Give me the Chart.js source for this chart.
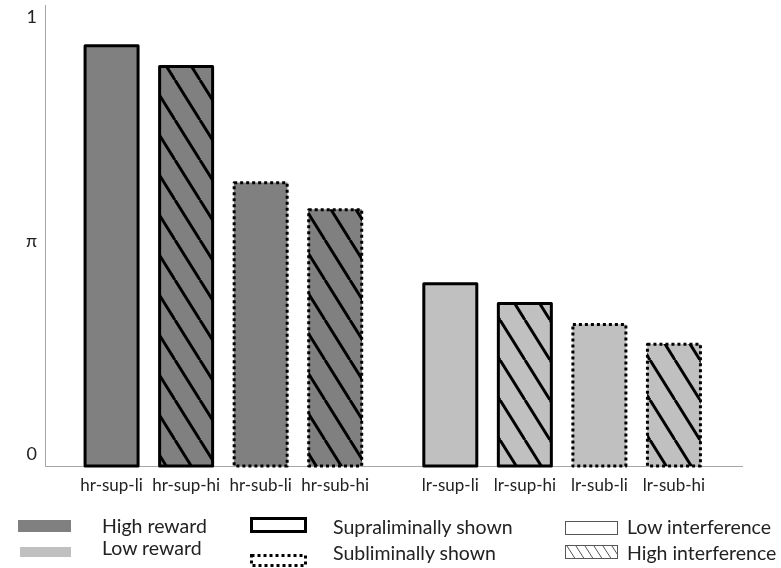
<!DOCTYPE html>
<html>
<head>
<meta charset="utf-8">
<script src="https://cdn.jsdelivr.net/npm/chart.js@4"></script>
<style>
  body { margin: 0; background: #fff; }
  #wrap { position: relative; width: 781px; height: 568px; font-family: Lato, sans-serif; color: #222; }
  #wrap canvas { position: absolute; left: 0; top: 0; }
  .lg { position: absolute; font-size: 19.5px; line-height: 20px; white-space: nowrap; }
  #swatches { position: absolute; left: 0; top: 0; }
</style>
</head>
<body>
<div id="wrap">
  <canvas id="chart" width="781" height="568"></canvas>
  <svg id="swatches" width="781" height="568">
    <defs>
      <pattern id="lgHatch" width="9" height="14" patternUnits="userSpaceOnUse">
        <line x1="-9" y1="0" x2="0" y2="14" stroke="#555" stroke-width="1"/>
        <line x1="0" y1="0" x2="9" y2="14" stroke="#555" stroke-width="1"/>
        <line x1="9" y1="0" x2="18" y2="14" stroke="#555" stroke-width="1"/>
      </pattern>
    </defs>
    <rect x="18" y="520" width="53" height="12" fill="#808080"/>
    <rect x="20" y="547" width="51" height="10" fill="#c0c0c0"/>
    <rect x="251.5" y="518.5" width="54" height="13" fill="#fff" stroke="#000" stroke-width="3"/>
    <rect x="251.5" y="555.5" width="54" height="10" fill="#fff" stroke="#000" stroke-width="3" stroke-dasharray="3 3"/>
    <rect x="565.5" y="521.5" width="52" height="13" fill="#fff" stroke="#555" stroke-width="1"/>
    <rect x="565.5" y="545.5" width="52" height="13" fill="url(#lgHatch)" stroke="#555" stroke-width="1"/>
  </svg>
  <div class="lg" style="left:102px; top:516px;">High reward</div>
  <div class="lg" style="left:102px; top:538px;">Low reward</div>
  <div class="lg" style="left:333px; top:517px;">Supraliminally shown</div>
  <div class="lg" style="left:333px; top:543px;">Subliminally shown</div>
  <div class="lg" style="left:627px; top:517px;">Low interference</div>
  <div class="lg" style="left:627px; top:543px;">High interference</div>
</div>
<script>
const categories = ["hr-sup-li", "hr-sup-hi", "hr-sub-li", "hr-sub-hi", "lr-sup-li", "lr-sup-hi", "lr-sub-li", "lr-sub-hi"];
const values = [0.936, 0.890, 0.631, 0.571, 0.406, 0.362, 0.315, 0.271];
const reward = ["high", "high", "high", "high", "low", "low", "low", "low"];
const shown = ["sup", "sup", "sub", "sub", "sup", "sup", "sub", "sub"];
const interference = ["low", "high", "low", "high", "low", "high", "low", "high"];
const yTickValues = [1, 0.5, 0];
const yTickLabels = ["1", "π", "0"];

// layout
const groupGap = 0.544;   // extra space between the two reward groups, in slots
const xMin = 0.107, xMax = 9.457;
const yMax = 1.027;
const dark = "#808080", light = "#c0c0c0";

const xPos = categories.map((c, i) => i + 1 + (reward[i] === "low" ? groupGap : 0));

function hatch(color) {
  const c = document.createElement("canvas");
  c.width = 25; c.height = 40;
  const g = c.getContext("2d");
  g.fillStyle = color;
  g.fillRect(0, 0, 25, 40);
  g.strokeStyle = "#000";
  g.lineWidth = 3;
  for (const k of [-25, 0, 25]) {
    g.beginPath();
    g.moveTo(k, 0);
    g.lineTo(k + 25, 40);
    g.stroke();
  }
  return g.createPattern(c, "repeat");
}

const fills = categories.map((c, i) => {
  const col = reward[i] === "high" ? dark : light;
  return interference[i] === "high" ? hatch(col) : col;
});

const barOutline = {
  id: "barOutline",
  afterDatasetsDraw(chart) {
    const ctx = chart.ctx;
    const meta = chart.getDatasetMeta(0);
    ctx.save();
    ctx.strokeStyle = "#000";
    ctx.lineWidth = 3;
    meta.data.forEach((bar, i) => {
      const p = bar.getProps(["x", "y", "base", "width"], true);
      ctx.setLineDash(shown[i] === "sub" ? [3, 3] : []);
      ctx.lineJoin = "round";
      ctx.strokeRect(p.x - p.width / 2, p.y, p.width, p.base - p.y);
    });
    ctx.restore();
  }
};

const yLabels = {
  id: "yLabels",
  afterDraw(chart) {
    const ctx = chart.ctx;
    const ys = chart.scales.y;
    ctx.save();
    ctx.font = "18px Lato";
    ctx.fillStyle = "#222";
    ctx.textAlign = "right";
    ctx.textBaseline = "middle";
    yTickValues.forEach((v, i) => {
      const off = v === 0 ? -12 : 0;
      ctx.fillText(yTickLabels[i], chart.chartArea.left - 8, ys.getPixelForValue(v) + off);
    });
    ctx.restore();
  }
};

new Chart(document.getElementById("chart"), {
  type: "bar",
  data: {
    datasets: [{
      data: values.map((v, i) => ({ x: xPos[i], y: v })),
      backgroundColor: fills,
      borderWidth: 0,
      barThickness: 53
    }]
  },
  options: {
    responsive: false,
    animation: false,
    layout: { padding: { top: 5, left: 45, right: 39, bottom: 68 } },
    plugins: { legend: { display: false }, tooltip: { enabled: false } },
    scales: {
      x: {
        type: "linear",
        offset: false,
        min: xMin,
        max: xMax,
        grid: { display: false, drawTicks: false },
        border: { color: "#a6a6a6", width: 1 },
        afterBuildTicks: (s) => { s.ticks = xPos.map(v => ({ value: v })); },
        afterFit: (s) => { s.height = 34; },
        ticks: {
          autoSkip: false,
          maxRotation: 0,
          padding: 9,
          color: "#222",
          font: { family: "Lato", size: 17 },
          callback: (v, i) => categories[i]
        }
      },
      y: {
        min: 0,
        max: yMax,
        grid: { display: false, drawTicks: false },
        border: { color: "#a6a6a6", width: 1 },
        ticks: { display: false }
      }
    }
  },
  plugins: [barOutline, yLabels]
});
</script>
</body>
</html>
